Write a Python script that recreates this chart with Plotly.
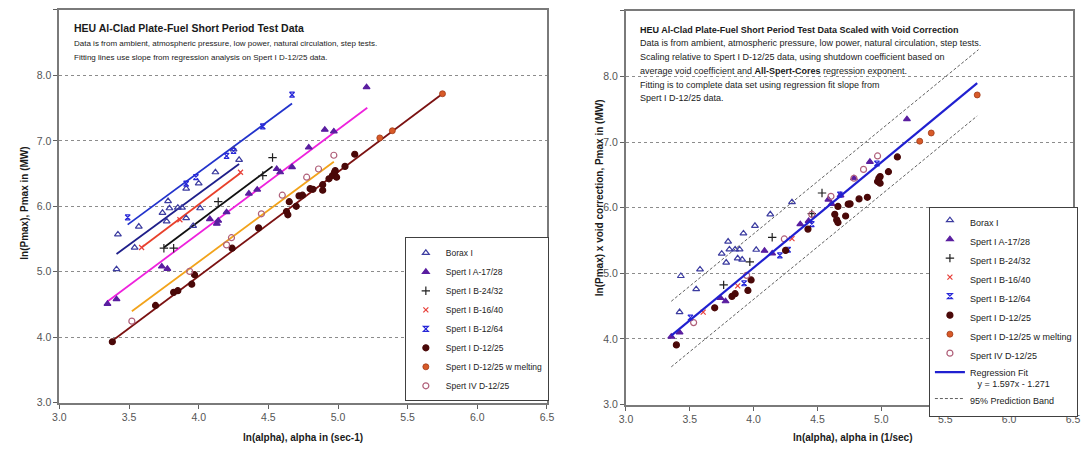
import plotly.graph_objects as go

# The page body has an 8px margin; size the figure to fit the 1089x455 window
OFF = 8
W, H = 1089 - 2 * OFF, 455 - 2 * OFF

# ---------------- Left chart data ----------------
L_borax_x = [3.41, 3.42, 3.54, 3.57, 3.74, 3.77, 3.78, 3.79, 3.85, 3.88, 3.91, 3.91, 3.96, 4.00, 4.01, 4.12, 4.25, 4.29]
L_borax_y = [5.04, 5.57, 5.37, 5.69, 5.90, 5.77, 6.08, 5.97, 5.98, 5.98, 6.27, 5.82, 5.70, 6.35, 5.97, 6.52, 6.87, 6.71]
L_a17_x = [3.345, 3.41, 3.735, 3.775, 4.08, 4.13, 4.14, 4.20, 4.36, 4.42, 4.56, 4.585, 4.67, 4.79, 4.905, 4.97, 5.205]
L_a17_y = [4.51, 4.58, 5.08, 5.045, 5.805, 5.735, 5.78, 5.91, 6.195, 6.255, 6.57, 6.52, 6.60, 6.90, 7.17, 7.145, 7.82]
L_b24_x = [3.75, 3.82, 4.14, 4.46, 4.53]
L_b24_y = [5.36, 5.36, 6.07, 6.47, 6.745]
L_b16_x = [3.59, 3.865, 4.30]
L_b16_y = [5.37, 5.795, 6.52]
L_b12_x = [3.49, 3.91, 3.98, 4.20, 4.25, 4.46, 4.67]
L_b12_y = [5.83, 6.345, 6.445, 6.77, 6.845, 7.22, 7.705]
L_d12_x = [3.38, 3.69, 3.82, 3.85, 3.95, 3.97, 4.24, 4.43, 4.63, 4.64, 4.65, 4.70, 4.72, 4.745,
           4.80, 4.82, 4.89, 4.89, 4.935, 4.96, 4.975, 4.98, 4.99, 5.05, 5.12]
L_d12_y = [3.93, 4.485, 4.685, 4.71, 4.81, 4.955, 5.36, 5.67, 5.92, 5.87, 6.07, 6.00, 6.16, 6.17,
           6.27, 6.26, 6.245, 6.33, 6.42, 6.47, 6.52, 6.545, 6.445, 6.61, 6.795]
L_melt_x = [5.30, 5.39, 5.75]
L_melt_y = [7.045, 7.155, 7.72]
L_iv_x = [3.52, 3.935, 4.20, 4.235, 4.45, 4.60, 4.775, 4.86, 4.97]
L_iv_y = [4.245, 5.005, 5.41, 5.52, 5.885, 6.17, 6.445, 6.57, 6.78]

# fitting-line end points
L_fit_borax_x = [3.41, 4.29];  L_fit_borax_y = [5.27, 6.645]
L_fit_b12_x = [3.49, 4.67];    L_fit_b12_y = [5.72, 7.57]
L_fit_b16_x = [3.59, 4.30];    L_fit_b16_y = [5.37, 6.51]
L_fit_b24_x = [3.75, 4.53];    L_fit_b24_y = [5.37, 6.61]
L_fit_a17_x = [3.345, 5.21];   L_fit_a17_y = [4.545, 7.505]
L_fit_iv_x = [3.52, 4.97];     L_fit_iv_y = [4.395, 6.68]
L_fit_d12_x = [3.38, 5.75];    L_fit_d12_y = [3.945, 7.72]

# ---------------- Right chart data ----------------
R_borax_x = [3.42, 3.43, 3.55, 3.58, 3.75, 3.785, 3.80, 3.81, 3.855, 3.89, 3.875, 3.91, 3.92, 4.01, 4.02, 4.13, 4.30]
R_borax_y = [4.41, 4.96, 4.76, 5.06, 5.30, 5.165, 5.485, 5.365, 5.365, 5.365, 5.23, 5.21, 5.61, 5.725, 5.36, 5.90, 6.085]
R_a17_x = [3.355, 3.42, 3.74, 3.78, 4.085, 4.145, 4.365, 4.43, 4.585, 4.61, 4.68, 4.785, 4.91, 5.20]
R_a17_y = [4.035, 4.10, 4.625, 4.575, 5.345, 5.305, 5.75, 5.80, 6.125, 6.06, 6.19, 6.45, 6.70, 7.35]
R_b24_x = [3.765, 3.97, 4.145, 4.455, 4.535]
R_b24_y = [4.825, 5.175, 5.55, 5.91, 6.225]
R_b16_x = [3.605, 3.875, 4.30]
R_b16_y = [4.41, 4.81, 5.53]
R_b12_x = [3.505, 3.925, 4.205, 4.27, 4.455, 4.675, 4.965]
R_b12_y = [4.325, 4.85, 5.275, 5.36, 5.75, 6.20, 6.675]
R_d12_x = [3.395, 3.695, 3.83, 3.855, 3.955, 3.98, 4.25, 4.425, 4.635, 4.65, 4.66, 4.66, 4.72, 4.74,
           4.755, 4.825, 4.89, 4.97, 4.98, 4.99, 4.99, 5.055, 5.125]
R_d12_y = [3.91, 4.475, 4.65, 4.69, 4.74, 4.90, 5.35, 5.675, 5.90, 5.815, 5.775, 6.02, 5.875, 6.055,
           6.06, 6.135, 6.16, 6.40, 6.45, 6.475, 6.375, 6.55, 6.775]
R_melt_x = [5.30, 5.39, 5.75]
R_melt_y = [7.015, 7.14, 7.72]
R_iv_x = [3.53, 3.945, 4.24, 4.455, 4.605, 4.785, 4.86, 4.97]
R_iv_y = [4.25, 4.97, 5.525, 5.90, 6.175, 6.45, 6.585, 6.79]

R_reg_x = [3.355, 5.75];   R_reg_y = [4.05, 7.90]
R_up_x = [3.355, 5.76];    R_up_y = [4.575, 8.41]
R_lo_x = [3.355, 5.75];    R_lo_y = [3.575, 7.40]

x_ticks = [3.0, 3.5, 4.0, 4.5, 5.0, 5.5, 6.0, 6.5]
y_ticks = [3.0, 4.0, 5.0, 6.0, 7.0, 8.0, 9.0]

SANS = "Liberation Sans, Arial, sans-serif"

series = [
    # name, symbol, color, size, left x/y, right x/y
    ("Borax I", "triangle-up-open", "#3C3CA0", 6, L_borax_x, L_borax_y, R_borax_x, R_borax_y),
    ("Spert I A-17/28", "triangle-up", "#5A1EA0", 6, L_a17_x, L_a17_y, R_a17_x, R_a17_y),
    ("Spert I B-24/32", "cross-thin-open", "#202020", 6, L_b24_x, L_b24_y, R_b24_x, R_b24_y),
    ("Spert I B-16/40", "x-thin-open", "#E8403A", 5, L_b16_x, L_b16_y, R_b16_x, R_b16_y),
    ("Spert I B-12/64", "hourglass-open", "#2828D8", 5, L_b12_x, L_b12_y, R_b12_x, R_b12_y),
    ("Spert I D-12/25", "circle", "#4A0808", 6, L_d12_x, L_d12_y, R_d12_x, R_d12_y),
    ("Spert I D-12/25 w melting", "circle", "#D85A28", 6, L_melt_x, L_melt_y, R_melt_x, R_melt_y),
    ("Spert IV D-12/25", "circle-open", "#B0607A", 6, L_iv_x, L_iv_y, R_iv_x, R_iv_y),
]

fits = [
    (L_fit_borax_x, L_fit_borax_y, "#1F1F8A"),
    (L_fit_b12_x, L_fit_b12_y, "#2233CC"),
    (L_fit_b16_x, L_fit_b16_y, "#E8402A"),
    (L_fit_b24_x, L_fit_b24_y, "#111111"),
    (L_fit_a17_x, L_fit_a17_y, "#EE22DD"),
    (L_fit_iv_x, L_fit_iv_y, "#F2A31B"),
    (L_fit_d12_x, L_fit_d12_y, "#7B1212"),
]

fig = go.Figure()

for fx, fy, c in fits:
    fig.add_trace(go.Scatter(x=fx, y=fy, mode="lines", line=dict(color=c, width=1.8),
                             showlegend=False, hoverinfo="skip", xaxis="x", yaxis="y"))


def mline_for(name, col):
    if name == "Spert I D-12/25 w melting":
        return dict(color="#A03A18", width=0.8)
    return dict(color=col, width=1.2)


for name, sym, col, sz, lx, ly, rx, ry in series:
    fig.add_trace(go.Scatter(x=lx, y=ly, mode="markers", name=name,
                             marker=dict(symbol=sym, color=col, size=sz, line=mline_for(name, col)),
                             xaxis="x", yaxis="y", legend="legend"))

# Right chart: bands and regression
fig.add_trace(go.Scatter(x=R_up_x, y=R_up_y, mode="lines", name="95% Prediction Band",
                         line=dict(color="#606060", width=1, dash="3px,2px"),
                         xaxis="x2", yaxis="y2", legend="legend2", legendrank=1100,
                         legendgroup="band"))
fig.add_trace(go.Scatter(x=R_lo_x, y=R_lo_y, mode="lines", name="95% Prediction Band",
                         line=dict(color="#606060", width=1, dash="3px,2px"),
                         xaxis="x2", yaxis="y2", legend="legend2", showlegend=False,
                         legendgroup="band"))
for name, sym, col, sz, lx, ly, rx, ry in series:
    fig.add_trace(go.Scatter(x=rx, y=ry, mode="markers", name=name,
                             marker=dict(symbol=sym, color=col, size=sz, line=mline_for(name, col)),
                             xaxis="x2", yaxis="y2", legend="legend2", legendrank=1000))
fig.add_trace(go.Scatter(x=R_reg_x, y=R_reg_y, mode="lines",
                         name="Regression Fit<br>   y = 1.597x - 1.271",
                         line=dict(color="#2020D0", width=2.2),
                         xaxis="x2", yaxis="y2", legend="legend2", legendrank=1050))


def px_x(p):
    return min(1.0, max(0.0, (p - OFF) / W))


def px_y(p):
    return min(1.0, max(0.0, 1 - (p - OFF) / H))


axis_common = dict(
    tickmode="array", ticks="outside", ticklen=4, tickcolor="#606060", tickwidth=1,
    showline=True, linecolor="#7A7A7A", linewidth=2, mirror=True,
    tickfont=dict(family=SANS, size=10.5, color="#555555"), zeroline=False,
)

xa = dict(axis_common, range=[3.0, 6.5], tickvals=x_ticks, ticktext=[f"{v:.1f}" for v in x_ticks],
          showgrid=False)
ya = dict(axis_common, range=[3.0, 9.0], tickvals=y_ticks, ticktext=[f"{v:.1f}" for v in y_ticks],
          showgrid=True, gridcolor="#8C8C8C", griddash="dot", gridwidth=1)

fig.update_layout(
    width=W, height=H, margin=dict(l=0, r=0, t=0, b=0),
    paper_bgcolor="white", plot_bgcolor="white",
    xaxis=dict(xa, domain=[px_x(53), px_x(547)], anchor="y"),
    yaxis=dict(ya, domain=[px_y(408), px_y(9)], anchor="x"),
    xaxis2=dict(xa, domain=[px_x(627), px_x(1080)], anchor="y2"),
    yaxis2=dict(ya, domain=[px_y(410), px_y(10)], anchor="x2"),
    legend=dict(x=px_x(403), y=px_y(240), xanchor="left", yanchor="top",
                bgcolor="white", bordercolor="#404040", borderwidth=1,
                font=dict(family=SANS, size=8.5, color="#222222"), tracegroupgap=0),
    legend2=dict(x=px_x(934), y=px_y(209), xanchor="left", yanchor="top",
                 bgcolor="white", bordercolor="#404040", borderwidth=1, valign="top",
                 font=dict(family=SANS, size=9, color="#222222"), tracegroupgap=0),
    showlegend=True,
)

ann = []


def txt(x, y, s, size, bold=False, angle=0, anchor="left", color="#1A1A1A"):
    ann.append(dict(x=px_x(x), y=px_y(y), xref="paper", yref="paper", text=(f"<b>{s}</b>" if bold else s),
                    showarrow=False, xanchor=anchor, yanchor="middle", textangle=angle,
                    font=dict(family=SANS, size=size, color=color)))


# left panel text
txt(66, 27, "HEU Al-Clad Plate-Fuel Short Period Test Data", 10.5, bold=True)
txt(66, 43, "Data is from ambient, atmospheric pressure, low power, natural circulation, step tests.", 8)
txt(66, 57, "Fitting lines use slope from regression analysis on Spert I D-12/25 data.", 8)
# right panel text
txt(639, 29, "HEU Al-Clad Plate-Fuel Short Period Test Data Scaled with Void Correction", 9, bold=True)
txt(639, 43, "Data is from ambient, atmospheric pressure, low power, natural circulation, step tests.", 9)
txt(639, 57, "Scaling relative to Spert I D-12/25 data, using shutdown coefficient based on", 9)
txt(639, 71, "average void coefficient and <b>All-Spert-Cores</b> regression exponent.", 9)
txt(639, 85, "Fitting is to complete data set using regression fit slope from", 9)
txt(639, 98, "Spert I D-12/25 data.", 9)

# axis titles
txt(300, 443, "ln(alpha), alpha in (sec-1)", 10, bold=True, anchor="center")
txt(857, 443, "ln(alpha), alpha in (1/sec)", 10, bold=True, anchor="center")
txt(18, 205, "ln(Pmax), Pmax in (MW)", 10, bold=True, angle=-90, anchor="center")
txt(601, 200, "ln(Pmax) x void correction, Pmax in (MW)", 10, bold=True, angle=-90, anchor="center")

fig.update_layout(annotations=ann)

fig.write_html("out.html")
